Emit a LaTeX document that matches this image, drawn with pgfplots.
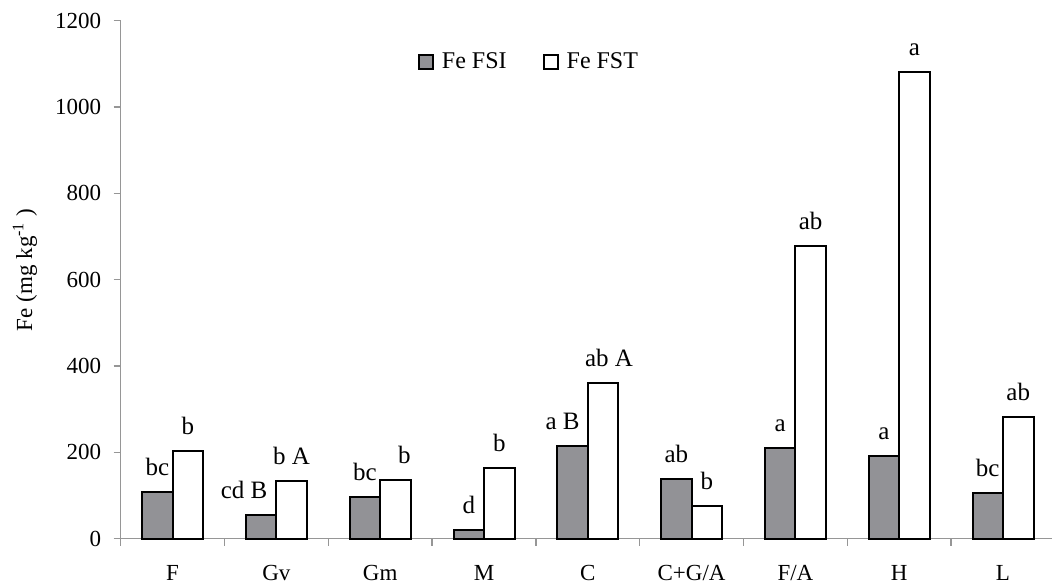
\documentclass[border=0pt]{standalone}
\usepackage{fontspec}
\setmainfont{Liberation Serif}
\usepackage{pgfplots}
\usepackage{pgfplotstable}
\pgfplotsset{compat=1.18}
\definecolor{barg}{RGB}{146,146,150}
\definecolor{axg}{RGB}{150,150,150}
\pgfplotstableread[col sep=comma]{
x,y,lab,dx
0,108,bc,0
1,54,cd B,-8.5
2,96,bc,0
3,21,d,0
4,214,a B,-5
5,138,ab,0
6,210,a,0
7,192,a,0
8,105,bc,0
}\fsi
\pgfplotstableread[col sep=comma]{
x,y,lab,dx
0,204,b,0
1,134,b A,0
2,137,b,4.5
3,163,b,0
4,361,ab A,3
5,76,b,0
6,678,ab,0
7,1080,a,0
8,281,ab,0
}\fst
\begin{document}
\begin{tikzpicture}
\begin{axis}[
  name=ax,
  scale only axis,
  width=465.65pt, height=259pt,
  xmin=-0.5, xmax=8.472, ymin=0, ymax=1200,
  enlargelimits=false,
  clip=false,
  axis x line*=bottom, axis y line*=left,
  axis line style={axg, line width=0.75pt},
  ybar=0pt, bar width=15.25pt,
  xtick={0,...,8},
  xticklabels={F,Gv,Gm,M,C,C+G/A,F/A,H,L},
  minor xtick={-0.5,0.5,...,8.5},
  major x tick style={draw=none},
  minor tick length=3.5pt,
  major tick length=3.5pt,
  tick align=outside,
  tick style={axg, line width=0.75pt},
  ytick={0,200,...,1200},
  /pgf/number format/assume math mode=true,
  /pgf/number format/1000 sep={},
  yticklabel style={font=\fontsize{11.5}{13}\selectfont, xshift=-2.7pt},
  xticklabel style={font=\fontsize{11.5}{13}\selectfont, yshift=-6.3pt},
  ylabel={Fe (mg kg\textsuperscript{-1} )},
  every axis y label/.style={at={(axis description cs:-0.1028,0.519)}, rotate=90, anchor=center, font=\fontsize{11.5}{13}\selectfont},
  legend columns=2,
  legend style={draw=none, fill=none, at={(axis description cs:0.4395,0.92)}, anchor=center, font=\fontsize{12}{14}\selectfont, /tikz/every odd column/.append style={column sep=2pt}, /tikz/every even column/.append style={column sep=16pt}},
  legend image code/.code={\draw[#1] (0pt,-3.5pt) rectangle (7pt,3.5pt);},
  nodes near coords,
  point meta=explicit symbolic,
  every node near coord/.append style={font=\fontsize{12.5}{14}\selectfont, yshift=4.3pt, xshift=\dx pt},
  visualization depends on={\thisrow{dx} \as \dx},
]
\addplot[fill=barg, draw=black, line width=1pt] table[x=x, y=y, meta=lab]{\fsi};
\addplot[fill=white, draw=black, line width=1pt] table[x=x, y=y, meta=lab]{\fst};
\legend{Fe FSI, Fe FST}
\end{axis}
\pgfresetboundingbox
\path[use as bounding box] (ax.south west) ++(-60.35pt,-22.15pt) rectangle ++(526pt,291.5pt);
\end{tikzpicture}
\end{document}
